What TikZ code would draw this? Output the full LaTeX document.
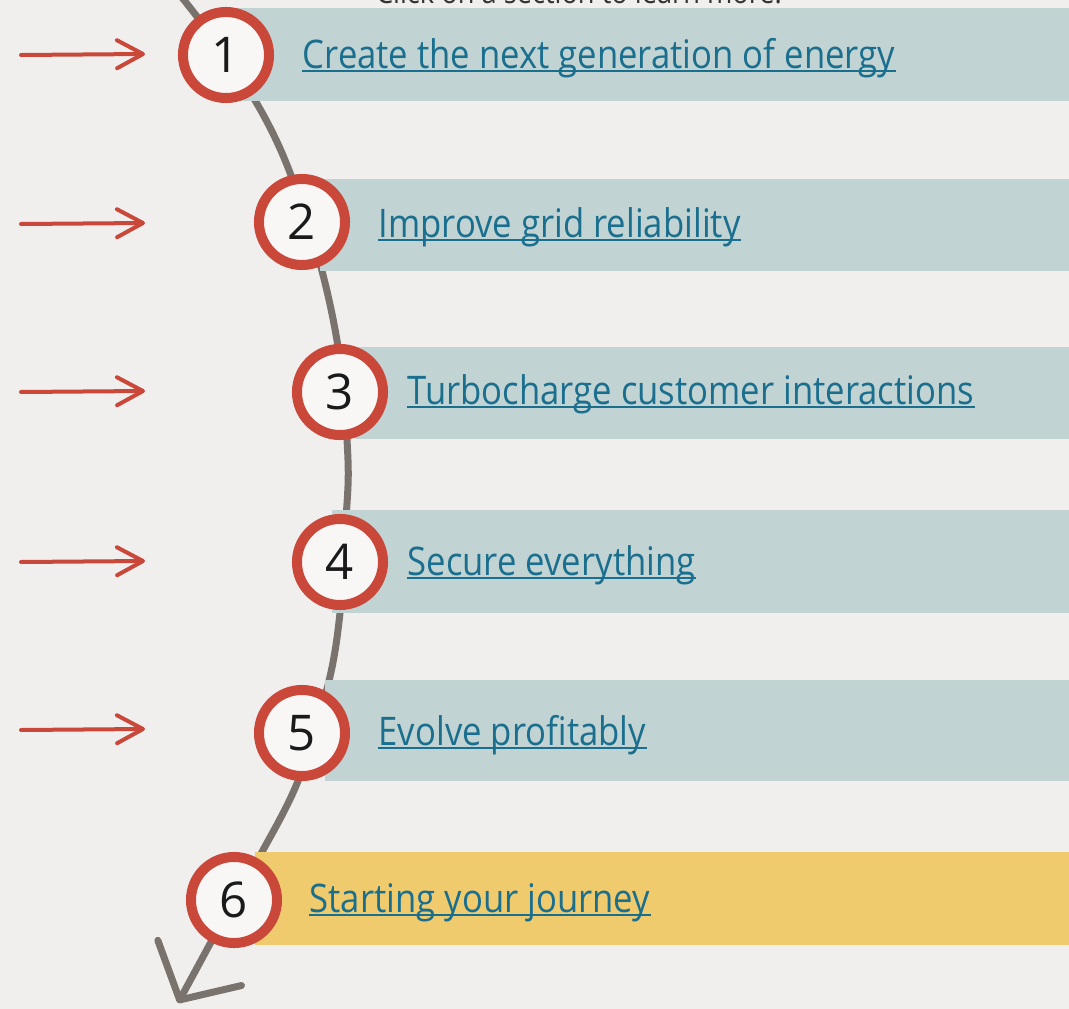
\documentclass[tikz,border=0pt]{standalone}
\usepackage{fontspec}
\setmainfont{Open Sans}[FakeStretch=0.88]
\newfontfamily\numfont{Open Sans}
\usetikzlibrary{arrows.meta}
\definecolor{pagebg}{HTML}{F0EFED}
\definecolor{bandteal}{HTML}{C1D3D3}
\definecolor{bandgold}{HTML}{F0CB6E}
\definecolor{ringred}{HTML}{C9483A}
\definecolor{ringfill}{HTML}{F8F7F6}
\definecolor{pathgray}{HTML}{7A736D}
\definecolor{linkblue}{HTML}{1A6E8E}
\definecolor{numblack}{HTML}{1A1A1A}
\definecolor{hintgray}{HTML}{333333}
\tikzset{
	band/.style={fill=bandteal},
	goldband/.style={fill=bandgold},
	numring/.style={circle, draw=ringred, line width=0.1cm, fill=ringfill,
		minimum size=0.86cm, inner sep=0pt, text=numblack,
		font=\numfont\fontsize{14}{14}\selectfont},
	itemlabel/.style={anchor=base west, inner sep=0pt, text=linkblue,
		font=\fontsize{11.2}{13}\selectfont},
	hint/.style={anchor=base, inner sep=0pt, text=hintgray,
		font=\fontsize{8.8}{10}\selectfont},
	uline/.style={draw=linkblue, line width=0.02cm},
	pointer/.style={draw=ringred, line width=0.04cm, line cap=round,
		-{Straight Barb[length=0.26cm,width=0.28cm,round]}},
	journey/.style={draw=pathgray, line width=0.07cm, line cap=round,
		-{Straight Barb[length=0.42cm,width=0.95cm,round]}},
}

\begin{document}
\begin{tikzpicture}[x=0.01cm, y=-0.01cm]
\useasboundingbox (0,0) rectangle (1069,1009);
\fill[pagebg] (0,0) rectangle (1069,1009);

% hint above the list, cut by the top edge
\node[hint] (hint) at (579,3) {Click on a section to learn more.};

% the journey line
\draw[journey] plot[smooth, tension=0.55] coordinates {
	(176,-10) (226,55) (265,118) (292,178) (322,271) (340,360)
	(348,460) (346,520) (340,613) (328,685) (298,781) (262,852)
	(234,900) (178,1003)};

% bands
\fill[band] (235,8) rectangle (1069,101);
\fill[band] (320,179) rectangle (1069,271);
\fill[band] (355,347) rectangle (1069,439);
\fill[band] (332,510) rectangle (1069,613);
\fill[band] (325,680) rectangle (1069,781);
\fill[goldband] (255,852) rectangle (1069,945);

% numbered rings
\node[numring] (n1) at (226,55) {1};
\node[numring] (n2) at (302,222) {2};
\node[numring] (n3) at (340,392) {3};
\node[numring] (n4) at (340,562) {4};
\node[numring] (n5) at (302,733) {5};
\node[numring] (n6) at (234,900) {6};

% labels
\node[itemlabel] (t1) at (302,68) {Create the next generation of energy};
\node[itemlabel] (t2) at (378,237) {Improve grid reliability};
\node[itemlabel] (t3) at (407,404) {Turbocharge customer interactions};
\node[itemlabel] (t4) at (407,575) {Secure everything};
\node[itemlabel] (t5) at (378,745) {Evolve profitably};
\node[itemlabel] (t6) at (309,912) {Starting your journey};

\draw[uline] ([yshift=-0.03cm]t1.base west) -- ([yshift=-0.03cm]t1.base east);
\draw[uline] ([yshift=-0.03cm]t2.base west) -- ([yshift=-0.03cm]t2.base east);
\draw[uline] ([yshift=-0.03cm]t3.base west) -- ([yshift=-0.03cm]t3.base east);
\draw[uline] ([yshift=-0.03cm]t4.base west) -- ([yshift=-0.03cm]t4.base east);
\draw[uline] ([yshift=-0.03cm]t5.base west) -- ([yshift=-0.03cm]t5.base east);
\draw[uline] ([yshift=-0.03cm]t6.base west) -- ([yshift=-0.03cm]t6.base east);

% red pointers
\coordinate (p1) at (21,55);  \coordinate (q1) at (145,54);
\coordinate (p2) at (21,224); \coordinate (q2) at (145,223);
\coordinate (p3) at (21,392); \coordinate (q3) at (145,391);
\coordinate (p4) at (21,562); \coordinate (q4) at (145,561);
\coordinate (p5) at (21,730); \coordinate (q5) at (145,729);
\draw[pointer] (p1) -- (q1);
\draw[pointer] (p2) -- (q2);
\draw[pointer] (p3) -- (q3);
\draw[pointer] (p4) -- (q4);
\draw[pointer] (p5) -- (q5);
\end{tikzpicture}
\end{document}
